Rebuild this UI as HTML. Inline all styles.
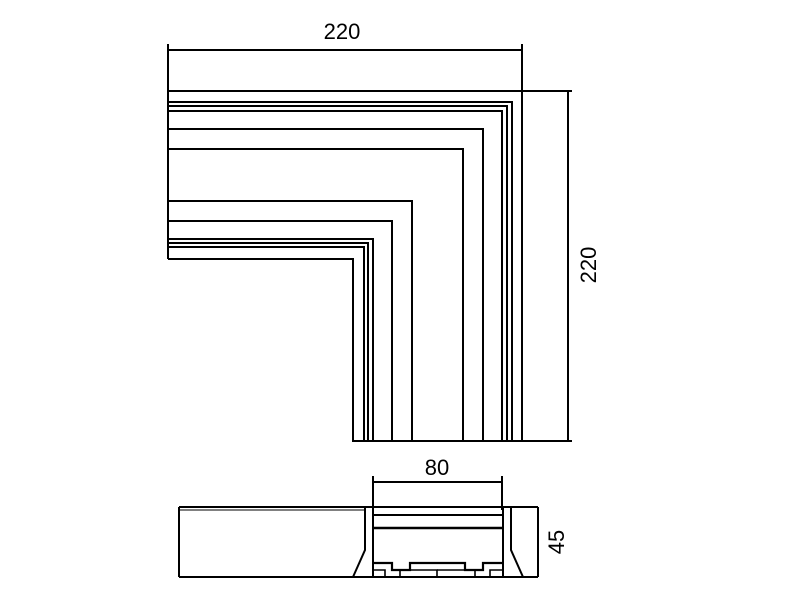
<!DOCTYPE html>
<html><head><meta charset="utf-8"><style>html,body{margin:0;padding:0;background:#fff}svg{display:block}</style></head>
<body>
<svg width="800" height="600" viewBox="0 0 800 600" xmlns="http://www.w3.org/2000/svg">
<g stroke="#000" stroke-width="2" fill="none">
<line x1="168" y1="44" x2="168" y2="259"/>
<line x1="522" y1="44" x2="522" y2="441"/>
<line x1="168" y1="50" x2="522" y2="50"/>
<line x1="168" y1="91" x2="572" y2="91"/>
<line x1="352" y1="441" x2="572" y2="441"/>
<line x1="568" y1="91" x2="568" y2="441"/>
<polyline points="168,102 512,102 512,441"/>
<polyline points="168,106 507,106 507,441"/>
<polyline points="168,111 502,111 502,441"/>
<polyline points="168,129 483,129 483,441"/>
<polyline points="168,149 463,149 463,441"/>
<polyline points="168,201 412,201 412,441"/>
<polyline points="168,221 392,221 392,441"/>
<polyline points="168,239 373,239 373,441"/>
<polyline points="168,243 368,243 368,441"/>
<polyline points="168,247 364,247 364,441"/>
<polyline points="168,259 353,259 353,441"/>
<line x1="179" y1="507" x2="538" y2="507"/>
<line x1="179" y1="510" x2="365" y2="510" stroke-width="1"/>
<line x1="179" y1="507" x2="179" y2="577"/>
<line x1="179" y1="577" x2="538" y2="577"/>
<line x1="373" y1="476" x2="373" y2="510"/>
<line x1="502" y1="476" x2="502" y2="510"/>
<line x1="373" y1="482" x2="502" y2="482"/>
<line x1="538" y1="507" x2="538" y2="577"/>
<line x1="373" y1="515" x2="503" y2="515"/>
<line x1="373" y1="528" x2="503" y2="528" stroke-width="2.4"/>
<polyline points="365,507 365,550 353,577"/>
<polyline points="373,507 373,577"/>
<polyline points="503,507 503,577"/>
<polyline points="511,507 511,550 523,577"/>
<polyline points="373,563 392,563 392,570 410,570 410,563 465,563 465,570 483,570 483,563 503,563" stroke-width="2.2"/>
<polyline points="373,570 385,570 385,577" stroke-width="1.6"/>
<polyline points="400,577 400,570 437,570 437,577" stroke-width="1.6"/>
<polyline points="437,570 475,570 475,577" stroke-width="1.6"/>
<polyline points="490,577 490,570 503,570" stroke-width="1.6"/>
</g>
<g font-family="'Liberation Sans', sans-serif" font-size="22" fill="#000">
<text x="342" y="39" text-anchor="middle">220</text>
<text x="437" y="475" text-anchor="middle">80</text>
<text transform="translate(596,265) rotate(-90)" text-anchor="middle">220</text>
<text transform="translate(564,542) rotate(-90)" text-anchor="middle">45</text>
</g>
</svg>
</body></html>
